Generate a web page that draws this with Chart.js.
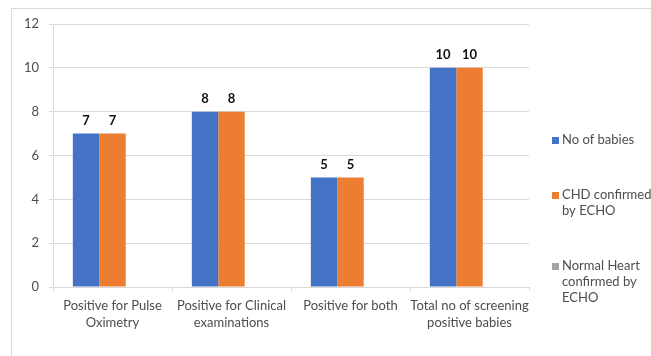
<!DOCTYPE html>
<html>
<head>
<meta charset="utf-8">
<script src="https://cdn.jsdelivr.net/npm/chart.js@4"></script>
<style>
  html, body { margin: 0; padding: 0; background: #fff; overflow: hidden; }
  #wrap { position: absolute; left: 0; top: 0; width: 651px; height: 356px; }
</style>
</head>
<body>
<div id="wrap"><canvas id="c" width="651" height="356"></canvas></div>
<script>
// Screening categories (multi-line axis labels)
const categories = [
  ["Positive for Pulse", "Oximetry"],
  ["Positive for Clinical", "examinations"],
  ["Positive for both"],
  ["Total no of screening", "positive babies"]
];

// Series names, split into the lines shown in the legend
const seriesNames = [
  ["No of babies"],
  ["CHD confirmed", "by ECHO"],
  ["Normal Heart", "confirmed by", "ECHO"]
];

// Series values
const noOfBabies   = [7, 8, 5, 10];
const chdConfirmed = [7, 8, 5, 10];
const normalHeart  = [null, null, null, null];

// Value axis ticks
const yMin = 0;
const yMax = 12;
const yStep = 2;

const seriesColors = ["#4472C4", "#ED7D31", "#A5A5A5"];
const FONT = "Lato, 'Liberation Sans', sans-serif";
const TEXT = "#4d4d4d";

// Outer chart frame (top and left edges)
const framePlugin = {
  id: "frame",
  beforeDraw(chart) {
    const ctx = chart.ctx;
    ctx.save();
    ctx.strokeStyle = "#d9d9d9";
    ctx.lineWidth = 1;
    ctx.beginPath();
    ctx.moveTo(11.5, chart.height);
    ctx.lineTo(11.5, 8.5);
    ctx.lineTo(chart.width, 8.5);
    ctx.stroke();
    ctx.restore();
  }
};

// Value labels above the bars of the first two series
const valueLabelPlugin = {
  id: "valueLabels",
  afterDatasetsDraw(chart) {
    const ctx = chart.ctx;
    ctx.save();
    ctx.font = "bold 13px " + FONT;
    ctx.fillStyle = "#111";
    ctx.textAlign = "center";
    ctx.textBaseline = "middle";
    [0, 1].forEach(di => {
      const meta = chart.getDatasetMeta(di);
      meta.data.forEach((bar, i) => {
        const v = chart.data.datasets[di].data[i];
        if (v === null || v === undefined) return;
        ctx.fillText(String(v), bar.x, bar.y - 13);
      });
    });
    ctx.restore();
  }
};

// Legend on the right with wrapped entries
const sideLegendPlugin = {
  id: "sideLegend",
  afterDraw(chart) {
    const ctx = chart.ctx;
    const lh = 16, gap = 39, boxX = 552, textX = 562, box = 7;
    let y = 140;
    ctx.save();
    ctx.font = "13px " + FONT;
    ctx.textAlign = "left";
    ctx.textBaseline = "middle";
    seriesNames.forEach((lines, k) => {
      ctx.fillStyle = seriesColors[k];
      ctx.fillRect(boxX, Math.round(y - box / 2), box, box);
      ctx.fillStyle = TEXT;
      lines.forEach((t, j) => ctx.fillText(t, textX, y + j * lh));
      y += lines.length * lh + gap;
    });
    ctx.restore();
  }
};

new Chart(document.getElementById("c"), {
  type: "bar",
  data: {
    labels: categories,
    datasets: [
      { label: seriesNames[0].join(" "), data: noOfBabies,   backgroundColor: seriesColors[0] },
      { label: seriesNames[1].join(" "), data: chdConfirmed, backgroundColor: seriesColors[1] },
      { label: seriesNames[2].join(" "), data: normalHeart,  backgroundColor: seriesColors[2] }
    ]
  },
  options: {
    responsive: false,
    animation: false,
    devicePixelRatio: 1,
    layout: { padding: { top: 24, right: 122, bottom: 19, left: 0 } },
    datasets: { bar: { categoryPercentage: 3 / 4.5, barPercentage: 1.0, borderWidth: 0 } },
    plugins: {
      legend: { display: false },
      tooltip: { enabled: false },
      title: { display: false }
    },
    scales: {
      x: {
        offset: true,
        grid: { display: true, drawOnChartArea: false, drawTicks: true, tickLength: 4, color: "#d9d9d9", offset: true },
        border: { display: true, color: "#d9d9d9" },
        ticks: { color: TEXT, font: { family: FONT, size: 13, lineHeight: 1.33 }, padding: 6, maxRotation: 0, autoSkip: false },
        afterFit(scale) { scale.height = 50; }
      },
      y: {
        min: yMin,
        max: yMax,
        ticks: { stepSize: yStep, color: TEXT, font: { family: FONT, size: 13 }, padding: 10 },
        grid: { color: "#d9d9d9", tickLength: 4, drawTicks: true },
        border: { display: true, color: "#d9d9d9" },
        afterFit(scale) { scale.width = 53; }
      }
    }
  },
  plugins: [framePlugin, valueLabelPlugin, sideLegendPlugin]
});
</script>
</body>
</html>
